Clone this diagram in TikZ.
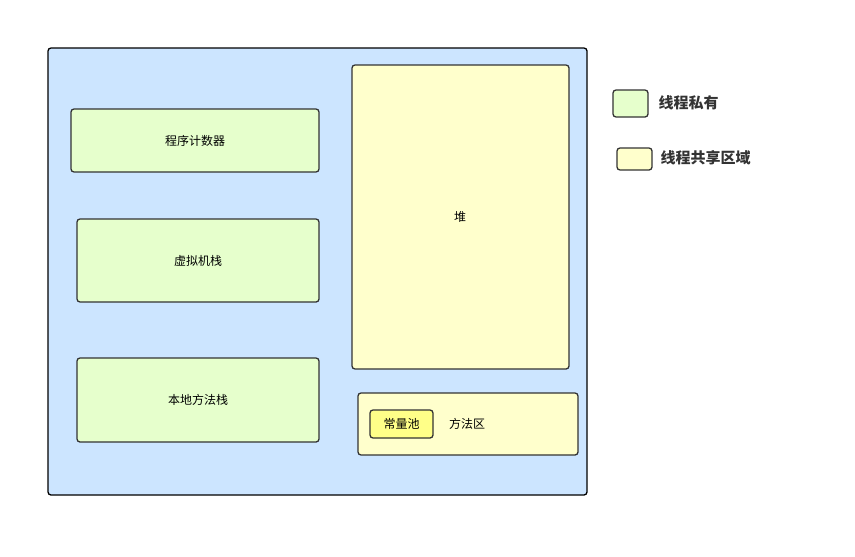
\documentclass[tikz,border=0pt]{standalone}
\usepackage{fontspec}
\newfontfamily\cjk{Noto Sans CJK SC}
\definecolor{outerc}{HTML}{CCE5FF}
\definecolor{privc}{HTML}{E6FFCC}
\definecolor{sharec}{HTML}{FFFFCC}
\definecolor{poolc}{HTML}{FFFF88}
\definecolor{edge}{HTML}{333333}
\begin{document}
\begin{tikzpicture}[x=1pt,y=-1pt,
  box/.style={draw=edge,line width=1.3pt,rounded corners=3pt},
  lbl/.style={font=\cjk\fontsize{12}{14}\selectfont,text=black},
  leg/.style={font=\cjk\bfseries\fontsize{15}{17}\selectfont,anchor=west,text=edge}]
\useasboundingbox (0,0) rectangle (855,557);
\draw[box,draw=black,fill=outerc] (48,48) rectangle (587,495);
\draw[box,fill=privc] (71,109) rectangle (319,172);
\node[lbl] (pc) at (195,141) {程序计数器};
\draw[box,fill=privc] (77,219) rectangle (319,302);
\node[lbl] (vm) at (198,261) {虚拟机栈};
\draw[box,fill=privc] (77,358) rectangle (319,442);
\node[lbl] (nm) at (198,400) {本地方法栈};
\draw[box,fill=sharec] (352,65) rectangle (569,369);
\node[lbl] (heap) at (460,217) {堆};
\draw[box,fill=sharec] (358,393) rectangle (578,455);
\node[lbl] (ma) at (467,424) {方法区};
\draw[box,fill=poolc] (370,410) rectangle (433,438);
\node[lbl] (cp) at (401.5,424) {常量池};
\draw[box,fill=privc] (613,90) rectangle (648,117);
\node[leg] (l1) at (655,103) {线程私有};
\draw[box,fill=sharec] (617,148) rectangle (652,170);
\node[leg] (l2) at (657,158) {线程共享区域};
\end{tikzpicture}
\end{document}
